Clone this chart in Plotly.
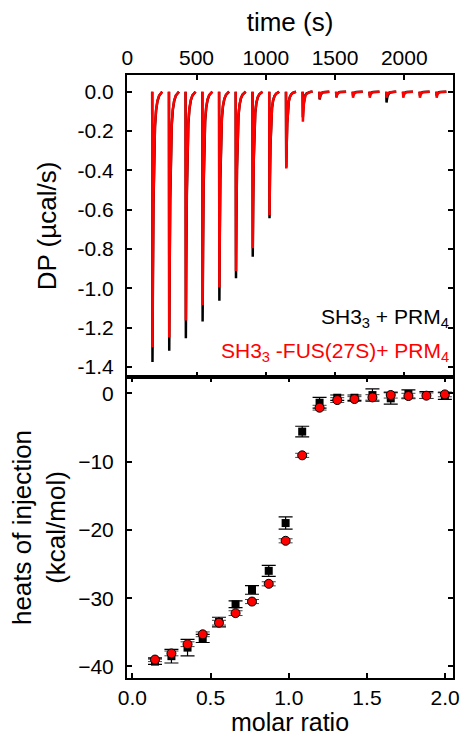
import plotly.graph_objects as go
from plotly.subplots import make_subplots

# ---- raw thermogram (top panel) ----
inj_time = [180, 301, 421, 542, 663, 783, 904, 1025, 1146, 1266, 1387, 1508, 1628, 1749, 1870, 1991, 2111, 2232]
dp_min_sh3 = [-1.375, -1.317, -1.254, -1.169, -1.063, -0.949, -0.839, -0.644, -0.385, -0.13,
              -0.04, -0.025, -0.02, -0.02, -0.055, -0.02, -0.02, -0.02]
dp_min_fus = [-1.30, -1.25, -1.164, -1.085, -0.996, -0.912, -0.796, -0.627, -0.39, -0.153,
              -0.035, -0.03, -0.03, -0.03, -0.03, -0.03, -0.03, -0.03]
# peak shape: seconds after injection / fraction of the minimum
peak_dt = [0, 2, 5, 9, 14, 20, 28, 38, 50, 62, 72]
peak_frac = [0, 1, 0.7, 0.42, 0.24, 0.13, 0.07, 0.035, 0.015, 0.005, 0]

# ---- integrated heats (bottom panel) ----
molar = [0.145, 0.25, 0.353, 0.45, 0.554, 0.66, 0.765, 0.872, 0.98, 1.086, 1.197, 1.31,
         1.42, 1.535, 1.652, 1.765, 1.88, 1.998]
heat_sh3 = [-39.3, -38.5, -37.25, -35.9, -33.5, -30.9, -28.8, -26.0, -19.0, -5.6, -1.37, -0.64,
            -0.64, -0.25, -0.73, -0.1, -0.25, -0.39]
err_sh3 = [0.4, 1.0, 1.2, 0.6, 0.7, 0.5, 0.63, 0.8, 0.9, 0.78, 0.78, 0.4, 0.4, 0.9, 0.85, 0.6, 0.5, 0.5]
heat_fus = [-39.0, -38.1, -36.75, -35.3, -33.6, -32.2, -30.5, -27.9, -21.6, -9.08, -2.1, -0.98,
            -0.83, -0.59, -0.24, -0.39, -0.34, -0.15]
err_fus = [0.3, 0.35, 0.35, 0.35, 0.35, 0.35, 0.3, 0.3, 0.3, 0.3, 0.35, 0.35, 0.35, 0.4, 0.45, 0.4, 0.4, 0.35]

FONT = "Liberation Sans, Arial, sans-serif"


def thermogram(mins):
    xs, ys = [], []
    for t, m in zip(inj_time, mins):
        for dt, f in zip(peak_dt, peak_frac):
            xs.append(t + dt)
            ys.append(m * f)
        xs.append(None)
        ys.append(None)
    return xs, ys


fig = make_subplots(rows=2, cols=1, vertical_spacing=0)

x1, y1 = thermogram(dp_min_sh3)
x2, y2 = thermogram(dp_min_fus)
fig.add_trace(go.Scatter(x=x1, y=y1, mode='lines', line=dict(color='black', width=2.5)), row=1, col=1)
fig.add_trace(go.Scatter(x=x2, y=y2, mode='lines', line=dict(color='red', width=2.5)), row=1, col=1)

fig.add_trace(go.Scatter(
    x=molar, y=heat_sh3, mode='markers',
    marker=dict(symbol='square', size=8, color='black'),
    error_y=dict(type='data', array=err_sh3, color='black', thickness=1.2, width=7)), row=2, col=1)
fig.add_trace(go.Scatter(
    x=molar, y=heat_fus, mode='markers',
    marker=dict(symbol='circle', size=9, color='red', line=dict(color='black', width=1)),
    error_y=dict(type='data', array=err_fus, color='#444', thickness=1, width=7)), row=2, col=1)

axis_common = dict(showline=True, linewidth=2, linecolor='black', mirror='allticks',
                   ticks='inside', ticklen=5, tickwidth=1.5, tickcolor='black',
                   showgrid=False, zeroline=False, automargin=False,
                   tickfont=dict(family=FONT, size=21, color='black'))

fig.update_xaxes(axis_common)
fig.update_yaxes(axis_common)
fig.update_yaxes(ticklabelstandoff=7)

fig.update_xaxes(side='top', range=[-2, 2352], tickvals=[0, 500, 1000, 1500, 2000],
                 title=dict(text='time (s)', font=dict(family=FONT, size=26), standoff=6),
                 row=1, col=1)
fig.update_yaxes(range=[-1.451, 0.085], tickvals=[0, -0.2, -0.4, -0.6, -0.8, -1.0, -1.2, -1.4],
                 ticktext=['0.0', '-0.2', '-0.4', '-0.6', '-0.8', '-1.0', '-1.2', '-1.4'],
                 title=dict(text='DP (µcal/s)', font=dict(family=FONT, size=26), standoff=14),
                 row=1, col=1)
fig.update_xaxes(range=[-0.034, 2.05], tickvals=[0, 0.5, 1.0, 1.5, 2.0],
                 ticktext=['0.0', '0.5', '1.0', '1.5', '2.0'],
                 title=dict(text='molar ratio', font=dict(family=FONT, size=25), standoff=2),
                 row=2, col=1)
fig.update_yaxes(range=[-41.7, 2.4], tickvals=[0, -10, -20, -30, -40],
                 title=dict(text='heats of injection<br>(kcal/mol)', font=dict(family=FONT, size=26), standoff=5),
                 row=2, col=1)

fig.update_layout(yaxis=dict(domain=[0.4992, 1]), yaxis2=dict(domain=[0, 0.4992]))

# labels placed in the data space of the thermogram panel
fig.add_annotation(xref='x', yref='y', x=2340, y=-1.15, xanchor='right', yanchor='middle',
                   text='SH3<sub>3</sub> + PRM<sub>4</sub>', showarrow=False,
                   font=dict(family=FONT, size=21, color='black'))
fig.add_annotation(xref='x', yref='y', x=2340, y=-1.325, xanchor='right', yanchor='middle',
                   text='SH3<sub>3</sub> -FUS(27S)+ PRM<sub>4</sub>', showarrow=False,
                   font=dict(family=FONT, size=21, color='red'))

fig.update_layout(
    width=460, height=736,
    margin=dict(l=127, r=7, t=75, b=58),
    showlegend=False,
    plot_bgcolor='white', paper_bgcolor='white',
    font=dict(family=FONT, color='black'),
)

# the page body has a default 8px margin; drop it so the figure fills the window
fig.write_html("out.html", config={'displayModeBar': False},
               post_script="document.body.style.margin='0';")
